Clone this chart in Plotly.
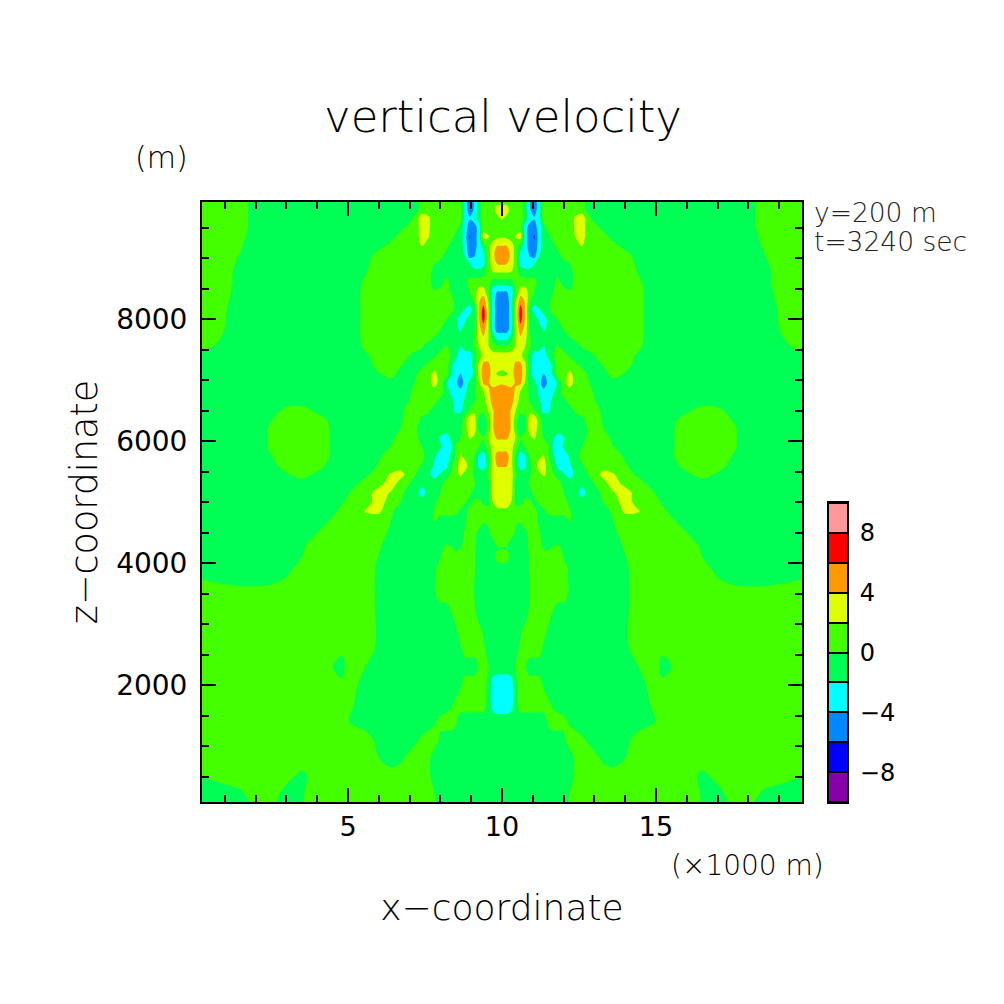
import plotly.graph_objects as go

# grid, left half only (the field is mirrored about x=10)
x_half = [0.22, 1.0, 1.5, 2.0, 2.5, 3.0, 3.5, 4.0, 4.4, 4.8, 5.2, 5.6, 6.0, 6.4, 6.7, 7.0, 7.2, 7.4, 7.6, 7.8,
          8.0, 8.2, 8.35, 8.5, 8.65, 8.8, 8.95, 9.1, 9.25, 9.4, 9.55, 9.7, 9.85, 10.0]
z_levels = [9934, 9800, 9650, 9500, 9350, 9200, 9050, 8900, 8750, 8600, 8450, 8300, 8150, 8000, 7850, 7700, 7550,
            7400, 7250, 7100, 6950, 6800, 6650, 6500, 6350, 6200, 6050, 5900, 5750, 5600, 5450, 5300, 5150, 5000,
            4850, 4700, 4500, 4300, 4240, 4100, 3900, 3700, 3500, 3200, 2900, 2600, 2300, 2000, 1700, 1400, 1100,
            800, 500, 250, 66]
w_half = [
    [1,1,1,-1,-1,-1,-1,-1,-1,-1,-1,-1,-1,-1,-1,-1,-1,1,1,1,1,1,1,1,1,-3,-5,-3.8,-1,1,1,1,1,1],
    [1,1,1,-1,-1,-1,-1,-1,-1,-1,-1,-1,-1,-1,-1,-1,-1,1,1,1,1,1,1,1,1,-3,-5,-3.8,-1,1,1,1,3,3],
    [1,1,1,-1,-1,-1,-1,-1,-1,-1,-1,-1,-1,-1,-1,-1,1,3,2.4,1,1,1,1,1,1,-3,-3.8,-3,-1,1,1,1,1.5,2.2],
    [1,1,1,-1,-1,-1,-1,-1,-1,-1,-1,-1,-1,-1,-1,1,1,3,2.4,1,1,1,1,1,-1,-3,-5,-5,-3,1,1,1,1,1],
    [1,1,0.5,-1,-1,-1,-1,-1,-1,-1,-1,-1,-1,-1,1,1,1,3,2.2,1,1,1,1,-1,-1,-3,-6.2,-5,-3,3,2.2,1,1.5,1.8],
    [1,1,0.2,-1,-1,-1,-1,-1,-1,-1,-1,-1,-1,1,1,1,1,2.1,1,1,1,1,-1,-1,-1,-3,-5.5,-5,-3,-1,1,3,4,4],
    [1,1,-0.1,-1,-1,-1,-1,-1,-1,-1,-1,-1,1,1,1,1,1,1,1,1,1,-1,-1,-1,-1,-2.2,-5,-4.2,-3,-2.5,1,3.5,5,5],
    [1,1,-0.5,-1,-1,-1,-1,-1,-1,-1,-1,-0.3,1,1,1,1,1,1,1,0,-1,-1,-1,-1,-1,-1,-2,-3,-3,-2.5,1,3,4,4.2],
    [1,1,-1,-1,-1,-1,-1,-1,-1,-1,-1,0,1,1,1,1,1,1,1,-1,-1,-1,-1,-1,-1,-1,-1,-1,-1,-0.5,1,1.8,1.8,1.8],
    [1,1,-1,-1,-1,-1,-1,-1,-1,-1,-1,0.6,1,1,1,1,1,1,1,-1,-1,1,-1,-1,-1,-1,1,1,1,1,1,-1,-1,-1],
    [1,0.67,-1,-1,-1,-1,-1,-1,-1,-1,-1,1,1,1,1,1,1,1,1,0.2,1,1,-0.3,-1,-1,-1,0,1,3,3,0.3,-3,-4,-4],
    [1,0.36,-1,-1,-1,-1,-1,-1,-1,-1,-1,1,1,1,1,1,1,1,1,1,1,1,1,-1,-1,-1,-1,0.5,3.8,5,2,-3,-5,-5],
    [1,0.15,-1,-1,-1,-1,-1,-1,-1,-1,-1,1,1,1,1,1,1,1,1,1,1,1,1,-1,-1,-2.2,-3,-1,3.8,7,2.5,-3,-5,-5],
    [1,0.1,-1,-1,-1,-1,-1,-1,-1,-1,-1,1,1,1,1,1,1,1,1,1,1,0,-1,-1.5,-3,-2.5,-1,-0.5,3.8,7,2.5,-3,-5,-5],
    [1,0,-1,-1,-1,-1,-1,-1,-1,-1,-1,1,1,1,1,1,1,1,1,1,0.2,-1,-1,-1.5,-2.5,-1,-1,-0.3,3.5,5,2.5,-3,-5,-5],
    [1,-0.2,-1,-1,-1,-1,-1,-1,-1,-1,-1,1,1,1,1,1,1,1,1,-0.1,-1,-1,-1,-1,-1,-1,-1,0.2,2.8,3.8,2.2,-1,-3,-3],
    [1,-1,-1,-1,-1,-1,-1,-1,-1,-1,-1,0.6,1,1,1,1,1,0.2,-1,-1,-1,0.3,-1,-1,-2.2,-1,-1,0.3,2,3,2.2,0.8,0.2,0],
    [-1,-1,-1,-1,-1,-1,-1,-1,-1,-1,-1,-0.3,1,1,1,0,-1,-1,-1,-0.3,1,1,-0.3,-1.5,-3,-3,-3,-0.8,0.9,2.6,3,3,3,3],
    [-1,-1,-1,-1,-1,-1,-1,-1,-1,-1,-1,-1,1,1,0.3,-1,-1,-0.6,0.4,1,1,1,-1.5,-3,-3,-3,-3,-1,2.5,4.5,4.5,3,3,2.8],
    [-1,-1,-1,-1,-1,-1,-1,-1,-1,-1,-1,-1,-0.2,1,-1,-1,-0.3,1,1,2.6,1,1,-1.8,-3,-4.1,-3,-3,-1.5,2.5,5,5,3,1.8,1.5],
    [-1,-1,-1,-1,-1,-1,-1,-1,-1,-1,-1,-1,-1,-1,-1,-0.8,0.2,1,1,3,1,-1.8,-3,-3.4,-5.4,-3,-1.5,-1,1.8,4.3,4.3,3.2,3.6,3.8],
    [-1,-1,-1,-1,-1,-1,-1,-1,-1,-1,-1,-1,-1,-1,-1,-0.3,1,1,1,1,1,-1.2,-2.3,-3,-3,-2.3,-1,-0.3,1,1.8,3.5,5,5,5],
    [-1,-1,-1,-1,-1,-1,-1,-1,-1,-1,-1,-1,-1,-1,-1,0.1,1,1,1,0.7,-0.7,-1,-1.5,-2.8,-3,-1.6,-1,-0.2,1,1.2,3,4.7,5,5],
    [-1,-1,-1,-1,-1,0.6,1,-0.5,-1,-1,-1,-1,-1,-1,-0.6,1,1,1,0.5,-1,-1,-1,-1.3,-2.4,-2.4,-1,0.3,1.5,0.8,0.5,2,3.8,5,5],
    [-1,-1,-1,-1,-0.1,1,1,1,-0.3,-1,-1,-1,-1,-1,-0.3,1,1,-0.6,-1,-1,-1,-1,-1,-1,-1,1,3.6,3,-0.6,-1.2,0.8,3.8,5,5],
    [-1,-1,-1,-1,0.3,1,1,1,0,-1,-1,-1,-1,-1,0,1,0.3,-1,-1,-1,-1,-1,-1,-1,-0.6,1,3.3,3,-0.3,-1.4,0.8,3.8,5,5],
    [-1,-1,-1,-1,0.3,1,1,1,0,-1,-1,-1,-1,-0.5,1,1,0.6,-1,-1,-1,-2.2,-3,-1.5,-1,0,1,2.2,1.5,0.7,0.2,1.8,3.6,4.2,4.2],
    [-1,-1,-1,-1,0.3,1,1,1,0,-1,-1,-1,-1,0.1,1,1,1,0,-1,-1,-1.8,-3,-2.2,0.3,1,1,1,1,0,-0.8,1,2.6,3,3],
    [-1,-1,-1,-1,-0.1,1,1,1,0,-1,-1,-1,-0.3,1,1,1,1,0.7,-1,-1.8,-3,-3,-1.5,0.2,2.2,1.5,1,0,-2.3,-3,-0.5,2.8,5,5],
    [-1,-1,-1,-1,-0.7,1,1,1,-0.6,-1,-1,-1,0.2,1,1,1,1,-0.3,-1,-2.2,-3,-2.4,-0.5,1,3,2.8,1,-0.3,-2.4,-3,-0.6,2.8,4.2,4.2],
    [-1,-1,-1,-1,-1,-0.3,0.9,-0.5,-1,-1,-1,-0.3,1,2.2,2.8,1,0,-1,-1.5,-2.8,-1.8,-1,0.4,1.5,2.3,1.5,0.7,-0.2,-1,-1,0.3,2.8,3,3],
    [-1,-1,-1,-1,-1,-1,-1,-1,-1,-1,-0.5,1,1.4,3,1.2,0,-1,-1.5,-1,-1,-0.6,1,1,1,1,1,1,0.3,-1,-1,-0.5,2.8,3,3],
    [-1,-1,-1,-1,-1,-1,-1,-1,-1,-1,0.6,1.1,3,1.8,0.6,-1,-1.4,-2.8,-1.4,-1,0,1,1,1,1,1,0.5,-0.6,-1,-1,-0.6,2.8,3,3],
    [-1,-1,-1,-1,-1,-1,-1,-1,-1,-0.2,1,1.4,2.8,1.2,0.1,-1,-1,-1,-1,-0.6,1,1,1,1,1,0.2,-0.5,0.3,0.5,-0.3,-0.4,2,3,3],
    [-1,-1,-1,-1,-1,-1,-1,-1,-0.6,0.4,1,2.2,2.4,0.4,-1,-1,-1,-1,-1,0.2,1,1,1,0.6,-0.4,-0.6,0.7,1,1,0.6,0.6,1.3,1.5,1.5],
    [-1,-1,-1,-1,-1,-1,-1,-1,0,1,1,1,1,0,-1,-1,-1,-1,-1,0.2,-1,-1,-1,-1,-1,-0.3,0.8,1,1,0.3,0.3,1,1,1],
    [-1,-1,-1,-1,-1,-1,-1,0,1,1,1,1,1,-0.5,-1,-1,-1,-1,-1,-1,-1,-1,-1,-1,-1,0.2,1,0.3,-0.3,-1,-0.3,1,1,1],
    [-1,-1,-1,-1,-1,-1,-0.4,1,1,1,1,1,0.3,-1,-1,-1,-1,-1,-1,-1,-1,0.1,-0.5,-1,-0.6,1,1,0.6,-1,-1,-1,-1,0.3,0.3],
    [-1,-1,-1,-1,-1,-1,-0.2,1,1,1,1,1,0.2,-1,-1,-1,-1,-1,-1,-1,-0.6,0.7,0.4,-0.4,-0.1,1,1,0.5,-1,-1,-1,-1,-0.2,-0.2],
    [-1,-1,-1,-1,-1,-1,0,1,1,1,1,1,-0.1,-1,-1,-1,-1,-1,-1,-1,-0.1,1,1,1,1,1,1,0.2,-1,-1,-1,-1,0.8,1],
    [-1,-1,-1,-1,-1,-0.6,0.9,1,1,1,1,1,-0.4,-1,-1,-1,-1,-1,-1,-0.5,1,1,1,1,1,1,1,0.3,-1,-1,-1,-1,-1,-1],
    [0.2,-0.3,-0.7,-0.7,-0.4,0.3,1,1,1,1,1,1,-0.5,-1,-1,-1,-1,-1,-1,-0.4,1,1,1,1,1,1,1,0,-1,-1,-1,-1,-1,-1],
    [1,1,1,1,1,1,1,1,1,1,1,1,-0.5,-1,-1,-1,-1,-1,-1,-0.4,1,1,1,1,1,1,1,0,-1,-1,-1,-1,-1,-1],
    [1,1,1,1,1,1,1,1,1,1,1,1,-0.4,-1,-1,-1,-1,-1,-1,-1,-1,-1,0,1,1,1,1,0.4,-1,-1,-1,-1,-1,-1],
    [1,1,1,1,1,1,1,1,1,1,1,1,-0.3,-1,-1,-1,-1,-1,-1,-1,-1,-1,-1,-0.3,1,1,1,1,0.6,-0.4,-1,-1,-1,-1],
    [1,1,1,1,1,1,1,1,1,0.2,1,1,-0.5,-1,-1,-1,-1,-1,-1,-1,-1,-1,-1,-1,-0.4,1,1,1,1,0.5,-1,-1,-1,-1],
    [1,1,1,1,1,1,1,1,0.1,-0.3,1,-0.1,-1,-1,-1,-1,-1,-1,-1,-1,-1,-1,-1,-1,-1,-1,-1,-1,0.3,1,0.2,-1,-1,-1],
    [1,1,1,1,1,1,1,1,1,0.2,0.4,-1,-1,-1,-1,-1,-1,-1,-1,-1,-1,-1,-1,-1,-0.3,1,1,1,1,1,-0.6,-2.8,-3.4,-3.4],
    [1,1,1,1,1,1,1,1,1,1,0,-1,-1,-1,-1,-1,-1,-1,-1,-1,-1,-1,-0.4,0.4,1,1,1,1,1,1,-0.7,-2.8,-3.4,-3.4],
    [1,1,1,1,1,1,1,1,1,0.4,-0.3,-1,-1,-1,-1,-1,-1,-1,-1,-0.3,0.5,1,1,0.3,-1,-1,-1,-1,-1,-1,-1,-1,-1,-1],
    [1,1,1,1,1,1,1,1,1,1,1,0.8,-0.6,-1,-1,-1,-0.3,0.3,1,1,-0.4,-1,-1,-1,-1,-1,-1,-1,-1,-1,-1,-1,-1,-1],
    [1,1,1,1,1,1,1,1,1,1,1,1,0,-1,-0.4,0.6,1,1,0.6,-1,-1,-1,-1,-1,-1,-1,-1,-1,-1,-1,-1,-1,-1,-1],
    [0,1,1,1,1,0.6,-0.5,1,1,1,1,1,1,1,1,1,1,1,0.6,-1,-1,-1,-1,-1,-1,-1,-1,-1,-1,-1,-1,-1,-1,-1],
    [-1,-1,-0.2,1,1,-0.6,-0.2,1,1,1,1,1,1,1,1,1,1,1,1,0,-1,-1,-1,-1,-1,-1,-1,-1,-1,-1,-1,-1,-1,-1],
    [-1,-1,-1,0.5,0.5,-1,-0.1,1,1,1,1,1,1,1,1,1,1,1,1,0.5,-1,-1,-1,-1,-1,-1,-1,-1,-1,-1,-1,-1,-1,-1],
]

band_colors = ["#8800aa", "#0000ff", "#0088ff", "#00ffff", "#00ff55",
               "#44ff00", "#ddff00", "#ff9900", "#ff0000", "#ff9999"]
band_mids = [-9, -7, -5, -3, -1, 1, 3, 5, 7, 9]
bar_ticks = [-8, -4, 0, 4, 8]

FONT = "DejaVu Sans"
# the page keeps its 8 px body margin, so the figure fills what is left of the window
SIZE = 996


def fx(px):
    return (px - 8) / SIZE


def fy(py):
    return (1004 - py) / SIZE


# mirror the half field about x=10 and flip so z goes upward
x = x_half + [round(20 - v, 2) for v in x_half[-2::-1]]
z = z_levels[::-1]
w = [row + row[-2::-1] for row in w_half[::-1]]

# stepped colorscale, one flat piece per band
scale = []
for i, c in enumerate(band_colors):
    scale.append([i / 10, c])
    scale.append([(i + 1) / 10, c])

fig = go.Figure()
fig.add_trace(go.Contour(x=x, y=z, z=w, zmin=-10, zmax=10, colorscale=scale, showscale=False,
                         autocontour=False,
                         contours=dict(start=-10, end=10, size=2, coloring="fill", showlines=False),
                         line=dict(width=0, smoothing=1),
                         xaxis="x", yaxis="y"))
# colour key as a one column heatmap on its own axes
fig.add_trace(go.Heatmap(x=[0], y=band_mids, z=[[v] for v in band_mids], zmin=-10, zmax=10,
                         colorscale=scale, showscale=False, ygap=2,
                         xaxis="x2", yaxis="y2"))

fig.update_layout(
    width=SIZE, height=SIZE, autosize=False,
    margin=dict(l=0, r=0, t=0, b=0),
    paper_bgcolor="white", plot_bgcolor="black",
    font=dict(family=FONT, color="black", weight=300),
    showlegend=False,
    title=dict(text="vertical velocity", font=dict(size=45), x=fx(503), xanchor="center",
               y=fy(116), yanchor="middle"),
    xaxis=dict(domain=[fx(202), fx(802)], range=[0.26, 19.74], anchor="y",
               tickvals=[5, 10, 15], ticks="inside", ticklen=14, tickwidth=2, tickcolor="black",
               minor=dict(dtick=1, tick0=0, ticks="inside", ticklen=7, tickwidth=1.5, tickcolor="black"),
               showline=True, linecolor="black", linewidth=2, mirror="ticks", showgrid=False, zeroline=False,
               tickfont=dict(size=27, weight=400), ticklabelstandoff=0,
               title=dict(text="x\u2212coordinate", font=dict(size=36), standoff=53)),
    yaxis=dict(domain=[fy(802), fy(202)], range=[82, 9918], anchor="x",
               tickvals=[2000, 4000, 6000, 8000], ticks="inside", ticklen=14, tickwidth=2, tickcolor="black",
               minor=dict(dtick=500, tick0=0, ticks="inside", ticklen=7, tickwidth=1.5, tickcolor="black"),
               showline=True, linecolor="black", linewidth=2, mirror="ticks", showgrid=False, zeroline=False,
               tickfont=dict(size=28, weight=400), ticklabelstandoff=7,
               title=dict(text="z\u2212coordinate", font=dict(size=36.5), standoff=7)),
    xaxis2=dict(domain=[fx(829), fx(847)], range=[-0.5, 0.5], anchor="y2", showticklabels=False,
                ticks="", showline=True, linecolor="black", linewidth=2, mirror=True, showgrid=False, zeroline=False),
    yaxis2=dict(domain=[fy(802), fy(503)], range=[-10, 10], anchor="x2", side="right",
                tickvals=bar_ticks, ticks="", showline=True, linecolor="black", linewidth=2, mirror=True,
                showgrid=False, zeroline=False, tickfont=dict(size=24, weight=400), ticklabelstandoff=6),
)

fig.add_annotation(text="(m)", xref="paper", yref="paper", x=fx(161), y=fy(158),
                   xanchor="center", yanchor="middle", showarrow=False, font=dict(size=30))
fig.add_annotation(text="(\u00d71000 m)", xref="paper", yref="paper", x=fx(747), y=fy(865),
                   xanchor="center", yanchor="middle", showarrow=False, font=dict(size=28))
fig.add_annotation(text="y=200 m", xref="paper", yref="paper", x=fx(812), y=fy(212),
                   xanchor="left", yanchor="middle", showarrow=False, font=dict(size=26.5, color="#222222"))
fig.add_annotation(text="t=3240 sec", xref="paper", yref="paper", x=fx(812), y=fy(241),
                   xanchor="left", yanchor="middle", showarrow=False, font=dict(size=26.5, color="#222222"))

fig.write_html("out.html")
